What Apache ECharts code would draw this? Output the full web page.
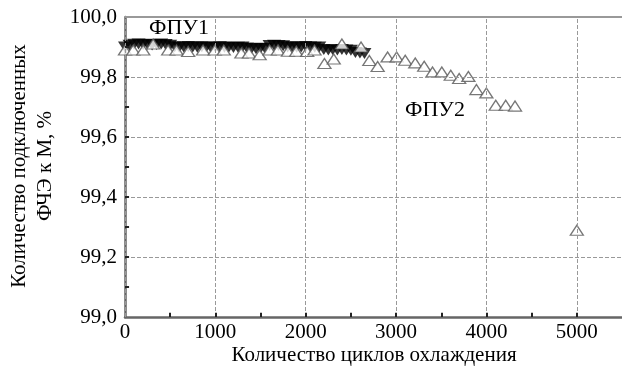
<!DOCTYPE html>
<html>
<head>
<meta charset="utf-8">
<script src="https://cdn.jsdelivr.net/npm/echarts@6/dist/echarts.min.js"></script>
<style>
  html, body { margin: 0; padding: 0; background: #fff; }
  #main { width: 622px; height: 374px; }
</style>
</head>
<body>
<div id="main"></div>
<script>
// ФПУ1 - filled markers (cycles, %)
const fpu1 = [
  [0, 99.900], [50, 99.906], [100, 99.909], [150, 99.910], [200, 99.908], [250, 99.909],
  [300, 99.907], [350, 99.908], [400, 99.910], [450, 99.908], [500, 99.906],
  [550, 99.901], [600, 99.899], [650, 99.900], [700, 99.902], [750, 99.900], [800, 99.899],
  [850, 99.901], [900, 99.900], [950, 99.898], [1000, 99.900], [1050, 99.901], [1100, 99.899],
  [1150, 99.900], [1200, 99.898], [1250, 99.899], [1300, 99.900], [1350, 99.897],
  [1400, 99.895], [1450, 99.894], [1500, 99.896], [1550, 99.895],
  [1600, 99.905], [1650, 99.906], [1700, 99.905], [1750, 99.904],
  [1800, 99.900], [1850, 99.901], [1900, 99.899], [1950, 99.900], [2000, 99.902],
  [2050, 99.900], [2100, 99.899], [2150, 99.900],
  [2200, 99.892], [2250, 99.890], [2300, 99.891], [2350, 99.890], [2400, 99.892],
  [2450, 99.890], [2500, 99.889],
  [2550, 99.882], [2600, 99.880], [2650, 99.878]
];

// ФПУ2 - open triangles
const fpu2 = [
  [0, 99.890], [92, 99.890], [202, 99.890], [312, 99.910], [478, 99.890], [570, 99.890],
  [699, 99.885], [864, 99.890], [993, 99.890], [1093, 99.890], [1288, 99.880], [1372, 99.880],
  [1490, 99.874], [1600, 99.890], [1692, 99.890], [1803, 99.886], [1895, 99.886], [2016, 99.885],
  [2097, 99.890], [2207, 99.845], [2310, 99.860], [2400, 99.910], [2612, 99.900], [2704, 99.855],
  [2796, 99.835], [2906, 99.867], [3006, 99.867], [3101, 99.856], [3212, 99.847], [3311, 99.836],
  [3403, 99.817], [3506, 99.817], [3605, 99.806], [3698, 99.795], [3800, 99.802], [3889, 99.758],
  [3999, 99.747], [4103, 99.706], [4213, 99.706], [4316, 99.703], [5000, 99.289]
];

// gridlines and small ticks
const xGrid = [0, 1000, 2000, 3000, 4000, 5000];
const yGrid = [99.2, 99.4, 99.6, 99.8];
const xTicks = [500, 1000, 1500, 2000, 2500, 3000, 3500, 4000, 4500, 5000];
const yTicks = [99.1, 99.2, 99.3, 99.4, 99.5, 99.6, 99.7, 99.8, 99.9];
const yTop = 100;

const seriesNames = ['ФПУ1', 'ФПУ2'];
const xTitle = 'Количество циклов охлаждения';
const yTitle = ['Количество подключенных', 'ФЧЭ к М, %'];

const font = "'Liberation Serif', 'Times New Roman', Times, serif";

const chart = echarts.init(document.getElementById('main'));

const text = (str, x, y, size, rot) => ({
  type: 'text',
  x: x,
  y: y,
  rotation: rot || 0,
  silent: true,
  style: { text: str, fill: '#000', fontFamily: font, fontSize: size, align: 'center', verticalAlign: 'middle' }
});

const dashed = { color: '#999', type: 'dashed', width: 1 };
const tickStyle = { color: '#222', type: 'solid', width: 2 };

const guideLines = [].concat(
  xGrid.map((v) => ({ xAxis: v, lineStyle: dashed })),
  yGrid.map((v) => ({ yAxis: v, lineStyle: dashed })),
  [{ yAxis: yTop, lineStyle: { color: '#999', type: 'solid', width: 2 } }],
  xTicks.map((v) => [{ coord: [v, 99], lineStyle: tickStyle }, { coord: [v, 99.014] }]),
  yTicks.map((v) => [{ coord: [0, v], lineStyle: tickStyle }, { coord: [45, v] }])
);

chart.setOption({
  animation: false,
  grid: { left: 125, top: 17, width: 499, height: 300 },
  xAxis: {
    type: 'value',
    min: 0,
    max: 5500,
    interval: 1000,
    axisLine: { show: true, onZero: false, lineStyle: { color: '#666', width: 2.5 } },
    axisTick: { show: false },
    axisLabel: {
      fontFamily: font, fontSize: 21, color: '#000', margin: 5, showMaxLabel: false,
      formatter: (v) => String(v)
    },
    splitLine: { show: false }
  },
  yAxis: {
    type: 'value',
    min: 99,
    max: 100,
    interval: 0.2,
    offset: 4,
    axisLine: { show: true, lineStyle: { color: '#666', width: 2.5 } },
    axisTick: { show: false },
    axisLabel: {
      fontFamily: font, fontSize: 21, color: '#000', margin: 4,
      formatter: (v) => v.toFixed(1).replace('.', ',')
    },
    splitLine: { show: false }
  },
  graphic: [
    text(xTitle, 374, 355, 21),
    text(yTitle[0], 19, 166, 21, Math.PI / 2),
    text(yTitle[1], 45, 166, 21, Math.PI / 2),
    text(seriesNames[0], 179, 28, 22),
    text(seriesNames[1], 435, 110, 22)
  ],
  series: [{
    // carrier for gridlines, frame and ticks
    type: 'line',
    data: [],
    z: 1,
    markLine: {
      silent: true,
      animation: false,
      symbol: ['none', 'none'],
      label: { show: false },
      data: guideLines
    }
  }, {
    name: seriesNames[0],
    type: 'scatter',
    data: fpu1,
    symbol: 'triangle',
    symbolRotate: 180,
    symbolSize: [14, 11],
    itemStyle: { color: '#000' },
    z: 2
  }, {
    name: seriesNames[1],
    type: 'scatter',
    data: fpu2,
    symbol: 'triangle',
    symbolSize: [13, 10],
    itemStyle: { color: '#fff', borderColor: '#555', borderWidth: 1.3 },
    z: 3
  }]
});
</script>
</body>
</html>
